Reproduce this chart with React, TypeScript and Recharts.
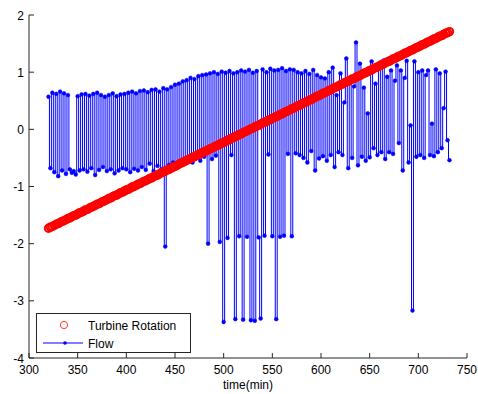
import React from 'react';
import { ComposedChart, Line, XAxis, YAxis, Legend } from 'recharts';

const times = [
  320, 322, 324, 326, 328, 330, 332, 334, 336, 338,
  340, 342, 344, 346, 348, 350, 352, 354, 356, 358,
  360, 362, 364, 366, 368, 370, 372, 374, 376, 378,
  380, 382, 384, 386, 388, 390, 392, 394, 396, 398,
  400, 402, 404, 406, 408, 410, 412, 414, 416, 418,
  420, 422, 424, 426, 428, 430, 432, 434, 436, 438,
  440, 442, 444, 446, 448, 450, 452, 454, 456, 458,
  460, 462, 464, 466, 468, 470, 472, 474, 476, 478,
  480, 482, 484, 486, 488, 490, 492, 494, 496, 498,
  500, 502, 504, 506, 508, 510, 512, 514, 516, 518,
  520, 522, 524, 526, 528, 530, 532, 534, 536, 538,
  540, 542, 544, 546, 548, 550, 552, 554, 556, 558,
  560, 562, 564, 566, 568, 570, 572, 574, 576, 578,
  580, 582, 584, 586, 588, 590, 592, 594, 596, 598,
  600, 602, 604, 606, 608, 610, 612, 614, 616, 618,
  620, 622, 624, 626, 628, 630, 632, 634, 636, 638,
  640, 642, 644, 646, 648, 650, 652, 654, 656, 658,
  660, 662, 664, 666, 668, 670, 672, 674, 676, 678,
  680, 682, 684, 686, 688, 690, 692, 694, 696, 698,
  700, 702, 704, 706, 708, 710, 712, 714, 716, 718,
  720, 722, 724, 726, 728, 730, 732,
];

const turbineRotation = [
  -1.73, -1.71, -1.70, -1.68, -1.66, -1.65, -1.63, -1.61, -1.60, -1.58,
  -1.56, -1.55, -1.53, -1.51, -1.50, -1.48, -1.46, -1.45, -1.43, -1.41,
  -1.40, -1.38, -1.36, -1.35, -1.33, -1.31, -1.30, -1.28, -1.26, -1.25,
  -1.23, -1.21, -1.20, -1.18, -1.16, -1.15, -1.13, -1.11, -1.10, -1.08,
  -1.06, -1.05, -1.03, -1.01, -1.00, -0.98, -0.96, -0.95, -0.93, -0.91,
  -0.90, -0.88, -0.86, -0.85, -0.83, -0.81, -0.80, -0.78, -0.76, -0.75,
  -0.73, -0.71, -0.70, -0.68, -0.66, -0.65, -0.63, -0.61, -0.59, -0.58,
  -0.56, -0.54, -0.53, -0.51, -0.49, -0.48, -0.46, -0.44, -0.43, -0.41,
  -0.39, -0.38, -0.36, -0.34, -0.33, -0.31, -0.29, -0.28, -0.26, -0.24,
  -0.23, -0.21, -0.19, -0.18, -0.16, -0.14, -0.13, -0.11, -0.09, -0.08,
  -0.06, -0.04, -0.03, -0.01, 0.01, 0.02, 0.04, 0.06, 0.07, 0.09,
  0.11, 0.12, 0.14, 0.16, 0.17, 0.19, 0.21, 0.22, 0.24, 0.26,
  0.27, 0.29, 0.31, 0.32, 0.34, 0.36, 0.37, 0.39, 0.41, 0.42,
  0.44, 0.46, 0.47, 0.49, 0.51, 0.52, 0.54, 0.56, 0.58, 0.59,
  0.61, 0.63, 0.64, 0.66, 0.68, 0.69, 0.71, 0.73, 0.74, 0.76,
  0.78, 0.79, 0.81, 0.83, 0.84, 0.86, 0.88, 0.89, 0.91, 0.93,
  0.94, 0.96, 0.98, 0.99, 1.01, 1.03, 1.04, 1.06, 1.08, 1.09,
  1.11, 1.13, 1.14, 1.16, 1.18, 1.19, 1.21, 1.23, 1.24, 1.26,
  1.28, 1.29, 1.31, 1.33, 1.34, 1.36, 1.38, 1.39, 1.41, 1.43,
  1.44, 1.46, 1.48, 1.49, 1.51, 1.53, 1.54, 1.56, 1.58, 1.59,
  1.61, 1.63, 1.64, 1.66, 1.68, 1.69, 1.71,
];

const flow = [
  0.57, -0.68, 0.64, -0.75, 0.62, -0.82, 0.66, -0.72, 0.63, -0.78,
  0.60, -0.70, -0.76, -0.73, -0.79, 0.58, -0.72, 0.61, -0.70, 0.62,
  -0.74, 0.59, -0.68, 0.62, -0.80, 0.64, -0.71, 0.60, -0.66, 0.57,
  -0.73, 0.60, -0.70, 0.63, -0.77, 0.58, -0.72, 0.61, -0.68, 0.62,
  -0.70, 0.64, -0.75, 0.66, -0.69, 0.63, -0.72, 0.67, -0.66, 0.68,
  -0.71, 0.65, -0.60, 0.69, -0.73, 0.70, -0.64, 0.66, -0.70, 0.72,
  -2.05, 0.70, -0.62, 0.74, -0.58, 0.78, -0.66, 0.80, -0.55, 0.84,
  -0.60, 0.86, -0.52, 0.90, -0.58, 0.88, -0.50, 0.93, -0.55, 0.95,
  -0.48, 0.96, -2.00, 0.98, -0.52, 1.00, -0.46, 0.97, -1.97, 1.01,
  -3.37, 0.99, -1.90, 1.02, -0.45, 0.98, -3.32, 1.00, -1.87, 1.03,
  -3.33, 1.01, -1.88, 1.04, -3.34, 0.99, -3.35, 1.02, -1.89, -3.31,
  1.05, -1.86, 1.00, -0.44, 1.06, -1.87, 1.03, -3.32, 1.04, -1.88,
  1.07, -1.86, 1.02, -0.43, 1.05, -1.87, 1.04, -0.42, 1.00, -0.45,
  0.98, -0.50, 1.02, -0.58, 0.97, -0.38, 1.04, -0.72, 0.95, -0.51,
  0.91, -0.47, 0.89, -0.55, 1.00, -0.45, 1.08, -0.66, 0.60, -0.40,
  0.98, -0.45, 0.47, 1.24, -0.68, 0.86, -0.50, 0.75, 1.52, -0.63,
  1.15, -0.48, 0.73, -0.55, 0.28, -0.49, 1.19, -0.33, 0.80, -0.45,
  1.15, -0.40, 1.20, -0.52, 0.92, -0.40, 1.03, -0.43, 0.85, 1.12,
  -0.24, 1.03, -0.72, 0.90, 1.20, -0.58, 0.07, -3.17, 1.19, -0.48,
  1.00, -0.45, 1.03, -0.50, 0.95, 1.03, -0.45, 0.10, -0.47, 1.05,
  -0.40, 0.98, -0.33, 0.37, 1.01, -0.19, -0.54,
];

const xTicks = [300, 350, 400, 450, 500, 550, 600, 650, 700, 750];
const yTicks = [-4, -3, -2, -1, 0, 1, 2];
const xLabel = 'time(min)';
const legendOrder = ['rotation', 'flow'];

const data = times.map((t, i) => ({ t, rotation: turbineRotation[i], flow: flow[i] }));

const FONT = "'Liberation Sans', Arial, Helvetica, sans-serif";
const AXIS = '#262626';
const TL = 5;

const BottomTick = (props: any) => {
  const { x, y, payload } = props;
  return (
    <g>
      <line x1={x} y1={y} x2={x} y2={y - TL} stroke={AXIS} strokeWidth={1} />
      <text x={x} y={y + 16} textAnchor="middle" fontSize={12} fontFamily={FONT} fill="#000">
        {payload.value}
      </text>
    </g>
  );
};

const TopTick = (props: any) => {
  const { x, y } = props;
  return <line x1={x} y1={y} x2={x} y2={y + TL} stroke={AXIS} strokeWidth={1} />;
};

const LeftTick = (props: any) => {
  const { x, y, payload } = props;
  return (
    <g>
      <line x1={x} y1={y} x2={x + TL} y2={y} stroke={AXIS} strokeWidth={1} />
      <text x={x - 5} y={y + 4.5} textAnchor="end" fontSize={12} fontFamily={FONT} fill="#000">
        {payload.value}
      </text>
    </g>
  );
};

const RightTick = (props: any) => {
  const { x, y } = props;
  return <line x1={x} y1={y} x2={x - TL} y2={y} stroke={AXIS} strokeWidth={1} />;
};

const XLabel = (props: any) => {
  const vb = props.viewBox || {};
  return (
    <text
      x={vb.x + vb.width / 2}
      y={vb.y + 31}
      textAnchor="middle"
      fontSize={12}
      fontFamily={FONT}
      fill="#000"
    >
      {xLabel}
    </text>
  );
};

const LegendBox = (props: any) => {
  const items = [...(props.payload || [])].sort(
    (a: any, b: any) => legendOrder.indexOf(a.dataKey) - legendOrder.indexOf(b.dataKey)
  );
  return (
    <svg width={155} height={40} style={{ display: 'block' }}>
      <rect x={0.5} y={0.5} width={154} height={39} fill="#fff" stroke={AXIS} strokeWidth={1} />
      {items.map((it: any, i: number) => {
        const cy = 12 + i * 18;
        const isFlow = it.dataKey === 'flow';
        return (
          <g key={i}>
            {isFlow ? (
              <g>
                <line x1={7} y1={cy} x2={47} y2={cy} stroke="#0000ff" strokeWidth={1} />
                <circle cx={29} cy={cy} r={1.8} fill="#0000ff" />
              </g>
            ) : (
              <circle cx={28} cy={cy} r={3.6} fill="none" stroke="#ff3333" strokeWidth={1} />
            )}
            <text x={52} y={cy + 4.5} fontSize={12} fontFamily={FONT} fill="#000">
              {it.value}
            </text>
          </g>
        );
      })}
    </svg>
  );
};

export default function App() {
  return (
    <div style={{ position: 'absolute', left: 0, top: 0, width: 478, height: 394, background: '#fff' }}>
      <ComposedChart width={478} height={394} data={data} margin={{ top: 15, right: 11, bottom: 0, left: 0 }}>
        <XAxis
          dataKey="t"
          type="number"
          domain={[300, 750]}
          ticks={xTicks}
          allowDataOverflow
          height={36}
          tickSize={0}
          tickMargin={0}
          tickLine={false}
          axisLine={{ stroke: AXIS, strokeWidth: 1 }}
          tick={<BottomTick />}
          interval={0}
          label={<XLabel />}
        />
        <XAxis
          xAxisId="top"
          orientation="top"
          dataKey="t"
          type="number"
          domain={[300, 750]}
          ticks={xTicks}
          allowDataOverflow
          height={0}
          tickSize={0}
          tickMargin={0}
          tickLine={false}
          axisLine={{ stroke: AXIS, strokeWidth: 1 }}
          tick={<TopTick />}
          interval={0}
        />
        <YAxis
          type="number"
          domain={[-4, 2]}
          ticks={yTicks}
          allowDataOverflow
          width={29}
          tickSize={0}
          tickMargin={0}
          tickLine={false}
          axisLine={{ stroke: AXIS, strokeWidth: 1 }}
          tick={<LeftTick />}
          interval={0}
        />
        <YAxis
          yAxisId="right"
          orientation="right"
          type="number"
          domain={[-4, 2]}
          ticks={yTicks}
          allowDataOverflow
          width={0}
          tickSize={0}
          tickMargin={0}
          tickLine={false}
          axisLine={{ stroke: AXIS, strokeWidth: 1 }}
          tick={<RightTick />}
          interval={0}
        />
        <Line
          dataKey="flow"
          name="Flow"
          type="step"
          stroke="#0000ff"
          strokeWidth={1}
          isAnimationActive={false}
          activeDot={false}
          dot={{ r: 1.9, stroke: '#0000ff', strokeWidth: 0.5, fill: '#0000ff' }}
        />
        <Line
          dataKey="rotation"
          name="Turbine Rotation"
          stroke="none"
          isAnimationActive={false}
          activeDot={false}
          dot={{ r: 3.7, stroke: '#ff0000', strokeWidth: 2, fill: 'none' }}
        />
        <Legend
          layout="horizontal"
          verticalAlign="middle"
          align="center"
          content={<LegendBox />}
          wrapperStyle={{ left: 36, top: 313, width: 155, height: 40 }}
        />
      </ComposedChart>
    </div>
  );
}
